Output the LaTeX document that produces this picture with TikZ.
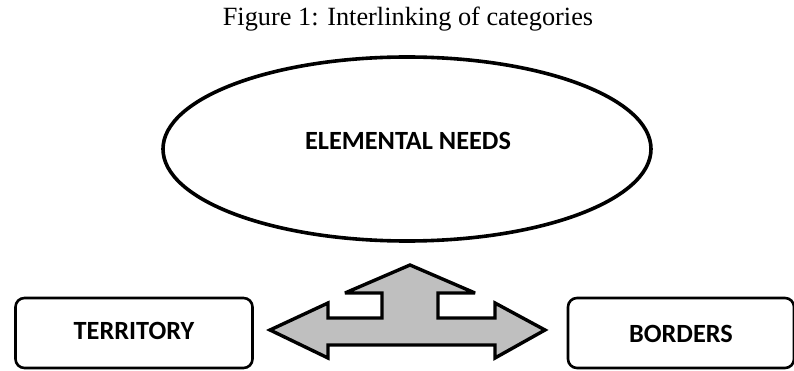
\documentclass[tikz,border=0pt]{standalone}
\usepackage{fontspec}
\setmainfont{Liberation Serif}
\newfontfamily\labelfont{Carlito}
\usetikzlibrary{shapes.geometric}
\begin{document}
\begin{tikzpicture}[x=1pt,y=-1pt,
  lbl/.style={font=\labelfont\bfseries\fontsize{26.3}{30}\selectfont, text=black},
  roundbox/.style={draw=black, line width=2.6pt, rounded corners=9pt, fill=white},
  oval/.style={draw=black, line width=3.6pt, ellipse, fill=white},
  blockarrow/.style={draw=black, line width=3.4pt, fill=black!25, line join=miter, miter limit=3}]
\useasboundingbox (0,0) rectangle (794,371);
\node[font=\fontsize{26.3}{30}\selectfont] (title) at (408,19) {Figure 1: Interlinking of categories};
\node[oval, minimum width=488pt, minimum height=184pt, inner sep=0pt] (needs) at (407,149) {};
\node[lbl] (needslbl) at (408,141) {ELEMENTAL NEEDS};
\node[roundbox, minimum width=237pt, minimum height=70pt, inner sep=0pt] (territory) at (134,333) {};
\node[lbl] (territorylbl) at (134,331) {TERRITORY};
\node[roundbox, minimum width=226pt, minimum height=70pt, inner sep=0pt] (borders) at (681,333) {};
\node[lbl] (borderslbl) at (681,334) {BORDERS};
\coordinate (ltip) at (270,330);
\coordinate (rtip) at (545,330);
\coordinate (utip) at (410,265);
\draw[blockarrow] (ltip) -- (328,303) -- (328,318) -- (382,318) -- (382,293) -- (345,293)
  -- (utip) -- (475,293) -- (438,293) -- (438,318) -- (495,318) -- (495,303)
  -- (rtip) -- (495,358) -- (495,345) -- (328,345) -- (328,358) -- cycle;
\end{tikzpicture}
\end{document}
